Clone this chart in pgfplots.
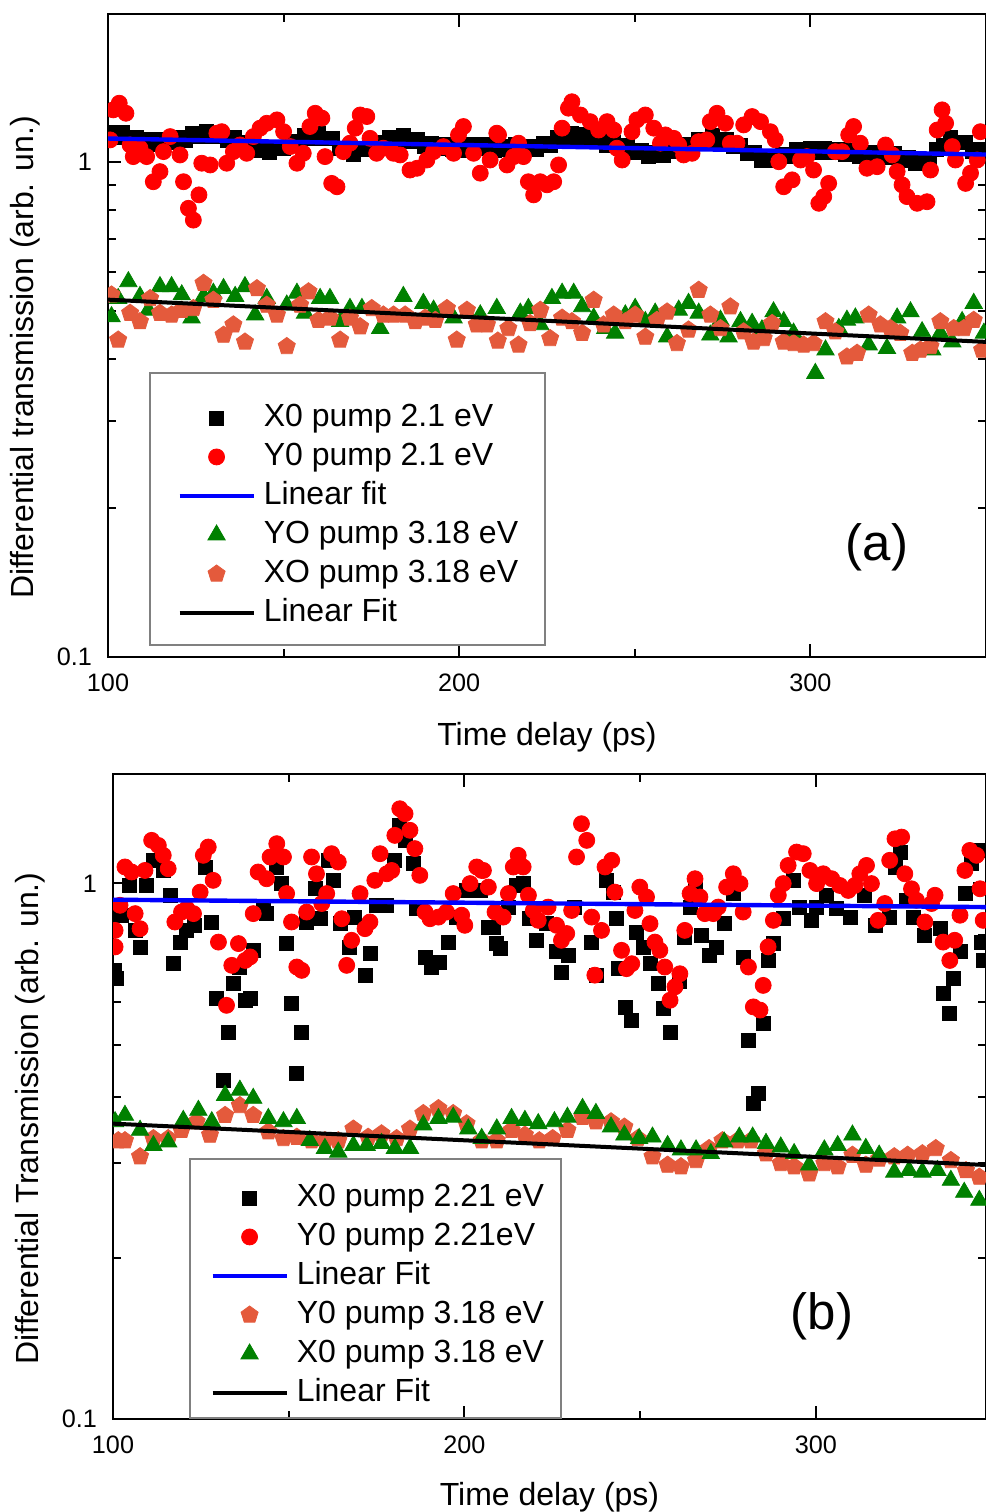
\documentclass[border=0pt]{standalone}
\usepackage{fontspec}
\setmainfont{Liberation Sans}
\usepackage{pgfplots}
\pgfplotsset{compat=1.18}
\definecolor{mygreen}{RGB}{0,128,0}
\definecolor{myorange}{RGB}{228,90,60}
\pgfplotsset{legend image code/.code={\draw[mark repeat=2,mark phase=2,#1] plot coordinates {(0bp,0bp) (18.5bp,0bp) (37bp,0bp)};}}
\pgfplotsset{
 panel/.style={
  scale only axis, xmin=100, ymin=0.1,
  axis line style={line width=1bp},
  xtick={100,200,300}, xticklabels={100,200,300}, minor xtick={150,250},
  ytick={0.1,1}, yticklabels={0.1,1}, minor ytick={0.2,0.3,0.4,0.5,0.6,0.7,0.8,0.9},
  tick align=inside, major tick length=6.5bp, minor tick length=4bp,
  every tick/.style={black, line width=1bp},
  tick label style={font=\fontsize{12.6bp}{15bp}\selectfont},
  xticklabel style={yshift=-5bp},
  yticklabel style={xshift=-4.5bp},
  label style={font=\fontsize{16bp}{19bp}\selectfont},
  clip marker paths=true,
  legend cell align=left,
  legend style={draw=none, fill=none, font=\fontsize{16bp}{19bp}\selectfont, row sep=4bp,
    nodes={inner sep=0pt, text height=12bp, text depth=3.5bp},
    /tikz/every odd column/.append style={column sep=4bp}, anchor=north west},
 },
 sq/.style={only marks, mark=square*, mark size=3.5bp, black},
 ci/.style={only marks, mark=*, mark size=4bp, red},
 tr/.style={only marks, mark=triangle*, mark size=5bp, mygreen},
 pe/.style={only marks, mark=pentagon*, mark size=4.5bp, myorange},
}
\begin{document}
\begin{tikzpicture}
\begin{axis}[ymode=log, panel, at={(54bp,-328.5bp)}, anchor=south west, width=439bp, height=321.5bp,
  xmax=350, ymax=1.99,
  xlabel={Time delay (ps)}, ylabel={Differential transmission (arb. un.)},
  xlabel style={at={(rel axis cs:0.5,-0.1369)}, anchor=base},
  ylabel style={at={(rel axis cs:-0.0945,0.466)}, anchor=center},
  legend style={at={(rel axis cs:0.0478,0.4323)}, inner xsep=13.5bp, inner ysep=11.5bp}]
\addplot[sq] coordinates {(100,1.145)(102,1.119)(104,1.147)(106,1.114)(108,1.123)(110,1.094)(112,1.111)(114,1.086)(116,1.111)(118,1.093)(120,1.119)(122,1.107)(124,1.143)(126,1.128)(128,1.153)(130,1.127)(132,1.141)(134,1.107)(136,1.121)(138,1.089)(140,1.096)(142,1.057)(144,1.069)(146,1.044)(148,1.071)(150,1.064)(152,1.101)(154,1.094)(156,1.131)(158,1.117)(160,1.143)(162,1.114)(164,1.116)(166,1.064)(168,1.066)(170,1.037)(172,1.066)(174,1.059)(176,1.096)(178,1.089)(180,1.123)(182,1.107)(184,1.131)(186,1.101)(188,1.109)(190,1.074)(192,1.091)(194,1.064)(196,1.083)(198,1.059)(200,1.081)(202,1.057)(204,1.083)(206,1.064)(208,1.083)(210,1.057)(212,1.077)(214,1.059)(216,1.083)(218,1.057)(220,1.077)(222,1.059)(224,1.089)(226,1.079)(228,1.121)(230,1.111)(232,1.141)(234,1.121)(236,1.137)(238,1.101)(240,1.111)(242,1.081)(244,1.096)(246,1.067)(248,1.079)(250,1.047)(252,1.056)(254,1.027)(256,1.047)(258,1.029)(260,1.061)(262,1.051)(264,1.083)(266,1.074)(268,1.111)(270,1.101)(272,1.129)(274,1.104)(276,1.111)(278,1.074)(280,1.079)(282,1.039)(284,1.043)(286,1.009)(288,1.025)(290,1.005)(292,1.036)(294,1.027)(296,1.059)(298,1.039)(300,1.063)(302,1.044)(304,1.067)(306,1.043)(308,1.061)(310,1.037)(312,1.053)(314,1.025)(316,1.044)(318,1.021)(320,1.046)(322,1.023)(324,1.041)(326,1.009)(328,1.021)(330,0.991)(332,1.011)(334,0.999)(336,1.061)(338,1.079)(340,1.121)(342,1.094)(344,1.096)(346,1.049)(348,1.059)(350,1.039)};
\addlegendentry{X0 pump 2.1 eV}
\addplot[ci] coordinates {(100.6,1.108)(101.5,1.274)(103.2,1.314)(105.1,1.254)(106.3,1.082)(107.2,1.025)(109.1,1.066)(111.0,1.025)(112.9,0.912)(114.8,0.956)(115.8,1.049)(117.7,1.125)(120.5,1.033)(121.5,0.912)(122.9,0.806)(124.3,0.763)(125.9,0.858)(126.7,0.994)(129.1,0.986)(131.0,1.143)(132.4,1.151)(133.8,0.994)(135.7,1.049)(137.6,1.082)(139.5,1.041)(141.4,1.125)(143.3,1.170)(145.2,1.197)(148.1,1.216)(150.0,1.151)(151.9,1.074)(153.8,0.994)(155.6,1.041)(157.5,1.179)(159.0,1.254)(160.9,1.226)(161.8,1.025)(163.7,0.905)(165.2,0.891)(167.0,1.049)(168.9,1.091)(170.4,1.170)(171.8,1.244)(173.7,1.235)(174.6,1.116)(176.5,1.041)(178.4,1.066)(181.3,1.041)(183.2,1.033)(186.0,0.963)(188.0,0.971)(190.8,1.009)(192.7,1.049)(195.5,1.074)(198.4,1.041)(199.8,1.134)(201.2,1.179)(204.1,1.041)(206.0,0.949)(208.8,1.009)(210.7,1.143)(211.2,1.134)(213.6,0.986)(215.5,1.025)(216.9,1.091)(218.3,1.025)(219.7,0.912)(221.2,0.858)(223.1,0.912)(225.0,0.899)(226.9,0.912)(228.3,0.986)(229.3,1.170)(231.1,1.284)(232.1,1.323)(234.5,1.244)(237.3,1.206)(239.7,1.160)(242.1,1.206)(244.0,1.160)(244.9,1.066)(246.4,1.009)(249.2,1.151)(250.6,1.216)(253.0,1.244)(255.4,1.170)(257.3,1.091)(258.7,1.134)(261.1,1.116)(262.5,1.082)(263.9,1.033)(266.3,1.041)(268.2,1.099)(270.5,1.108)(271.5,1.206)(273.4,1.254)(275.8,1.197)(277.2,1.091)(279.1,1.091)(281.0,1.188)(283.4,1.235)(285.8,1.206)(288.6,1.151)(290.0,1.108)(291.0,1.001)(292.4,0.891)(294.8,0.920)(297.2,1.009)(299.0,1.025)(300.9,0.963)(302.4,0.825)(303.8,0.851)(305.2,0.905)(307.1,1.049)(309.0,1.049)(310.9,1.134)(312.3,1.179)(314.2,1.091)(316.1,0.971)(319.0,0.978)(321.4,1.082)(323.3,1.033)(324.7,0.956)(326.1,0.899)(327.5,0.851)(330.4,0.825)(333.2,0.831)(334.2,0.963)(336.1,1.160)(337.5,1.274)(338.5,1.197)(340.4,1.074)(341.3,1.009)(344.2,0.905)(345.6,0.949)(347.5,1.009)(348.4,1.151)};
\addlegendentry{Y0 pump 2.1 eV}
\addplot[blue, line width=2.2bp] coordinates {(100,1.115)(350,1.035)};
\addlegendentry{Linear fit}
\addplot[tr] coordinates {(101.0,0.487)(102.9,0.530)(105.8,0.573)(109.1,0.535)(111.5,0.502)(114.8,0.560)(118.1,0.560)(121.0,0.539)(123.8,0.484)(127.2,0.535)(130.0,0.543)(132.9,0.555)(136.2,0.535)(139.0,0.560)(141.9,0.491)(145.2,0.530)(150.9,0.514)(153.8,0.543)(156.1,0.495)(160.4,0.530)(163.2,0.530)(166.1,0.476)(168.9,0.506)(172.3,0.506)(177.5,0.461)(184.1,0.535)(189.8,0.518)(192.7,0.502)(198.4,0.484)(202.2,0.495)(206.0,0.491)(210.7,0.506)(217.4,0.495)(219.7,0.506)(223.1,0.469)(226.4,0.530)(229.3,0.543)(232.6,0.543)(235.0,0.510)(238.3,0.484)(241.6,0.461)(244.4,0.451)(247.3,0.491)(250.1,0.506)(253.0,0.476)(255.8,0.495)(259.2,0.443)(262.5,0.502)(265.3,0.518)(268.2,0.495)(271.5,0.447)(274.4,0.479)(276.7,0.443)(280.1,0.476)(283.4,0.472)(286.2,0.458)(289.5,0.498)(292.4,0.476)(295.2,0.451)(301.4,0.374)(304.3,0.417)(308.1,0.461)(310.4,0.479)(312.8,0.484)(316.6,0.427)(321.8,0.420)(324.7,0.484)(328.5,0.498)(331.8,0.454)(334.7,0.417)(337.0,0.451)(340.4,0.433)(343.2,0.476)(346.5,0.518)(349.4,0.451)};
\addlegendentry{YO pump 3.18 eV}
\addplot[pe] coordinates {(101.0,0.539)(102.9,0.437)(106.3,0.495)(109.1,0.476)(112.0,0.530)(114.8,0.495)(118.1,0.491)(121.0,0.502)(124.3,0.506)(127.2,0.569)(130.0,0.526)(132.9,0.447)(135.7,0.469)(139.0,0.433)(142.4,0.555)(145.2,0.514)(148.1,0.491)(150.9,0.424)(154.7,0.514)(157.1,0.547)(159.9,0.479)(163.2,0.484)(166.1,0.437)(168.9,0.484)(171.8,0.465)(175.1,0.506)(178.4,0.491)(181.3,0.491)(184.6,0.491)(187.5,0.476)(190.3,0.484)(193.2,0.479)(196.5,0.506)(199.3,0.437)(202.2,0.502)(205.0,0.469)(207.9,0.469)(211.0,0.435)(214.0,0.461)(216.9,0.427)(220.2,0.472)(223.1,0.502)(225.9,0.440)(229.3,0.484)(232.1,0.476)(235.0,0.451)(238.3,0.526)(241.1,0.469)(244.0,0.491)(247.3,0.476)(250.1,0.491)(253.0,0.443)(256.3,0.479)(259.2,0.498)(262.0,0.430)(265.3,0.458)(268.2,0.551)(271.5,0.491)(274.4,0.461)(277.2,0.510)(281.0,0.454)(283.8,0.433)(286.7,0.440)(289.1,0.472)(292.4,0.433)(295.2,0.430)(298.1,0.427)(300.9,0.430)(304.3,0.476)(307.1,0.454)(310.4,0.404)(313.3,0.411)(316.6,0.491)(319.9,0.469)(322.8,0.461)(325.6,0.451)(329.0,0.411)(331.3,0.417)(334.2,0.424)(337.0,0.476)(340.8,0.461)(343.7,0.461)(346.5,0.479)(348.9,0.417)};
\addlegendentry{XO pump 3.18 eV}
\addplot[black, line width=2bp] coordinates {(100,0.527)(350,0.433)};
\addlegendentry{Linear Fit}
\draw[gray, line width=0.6bp] (rel axis cs:0.0478,0.0187) rectangle (rel axis cs:0.4977,0.4417);
\node[font=\fontsize{25.5bp}{30bp}\selectfont] at (rel axis cs:0.876,0.171) {(a)};
\end{axis}
\begin{axis}[ymode=log, panel, at={(56.5bp,-709.5bp)}, anchor=south west, width=436.5bp, height=322.5bp,
  xmax=348.4, ymax=1.6,
  xlabel={Time delay (ps)}, ylabel={Differential Transmission (arb. un.)},
  xlabel style={at={(rel axis cs:0.5,-0.1333)}, anchor=base},
  ylabel style={at={(rel axis cs:-0.0951,0.466)}, anchor=center},
  legend style={at={(rel axis cs:0.0882,0.3922)}, inner xsep=10bp, inner ysep=8bp}]
\addplot[sq] coordinates {(100.5,0.688)(101.0,0.664)(102.5,0.872)(104.8,0.991)(106.3,0.817)(107.7,0.761)(109.6,0.991)(111.5,1.104)(114.3,1.057)(116.2,0.950)(117.2,0.708)(119.1,0.777)(121.0,0.817)(123.3,0.835)(126.2,1.073)(128.1,0.847)(129.5,0.609)(131.4,0.429)(132.8,0.528)(134.2,0.650)(136.1,0.698)(137.6,0.605)(139.0,0.609)(139.9,0.750)(142.8,0.890)(143.7,0.878)(146.6,1.073)(148.0,0.999)(149.4,0.772)(150.8,0.596)(152.3,0.442)(153.7,0.528)(155.1,0.847)(157.5,0.977)(158.9,0.859)(161.3,1.104)(162.7,1.013)(164.6,0.841)(167.4,0.761)(168.8,0.865)(171.7,0.674)(173.1,0.739)(175.0,0.910)(177.9,0.910)(180.2,1.104)(181.6,1.283)(183.1,1.203)(185.4,1.088)(186.4,0.897)(188.8,0.729)(190.7,0.698)(193.0,0.713)(195.4,0.777)(197.8,0.865)(200.6,0.970)(204.4,0.970)(206.8,0.829)(208.2,0.829)(209.1,0.772)(210.1,0.755)(212.5,0.903)(214.8,0.991)(216.7,0.999)(218.6,0.859)(220.5,0.783)(223.4,0.841)(226.2,0.745)(227.6,0.683)(229.5,0.734)(231.4,0.903)(236.2,0.777)(237.6,0.674)(240.4,1.013)(242.3,0.963)(243.3,0.859)(243.8,0.693)(245.7,0.588)(247.6,0.555)(249.0,0.811)(250.9,0.761)(252.8,0.708)(255.2,0.650)(256.6,0.584)(258.5,0.528)(261.3,0.655)(262.7,0.794)(264.2,0.903)(265.6,0.991)(267.5,0.800)(269.8,0.734)(271.7,0.761)(274.1,0.841)(276.5,0.957)(279.3,0.729)(280.8,0.510)(282.2,0.388)(283.6,0.405)(285.0,0.547)(286.4,0.718)(287.9,0.772)(290.7,0.859)(293.6,1.013)(295.4,0.903)(298.8,0.853)(300.2,0.903)(303.0,0.950)(305.9,0.897)(309.7,0.865)(313.9,0.950)(316.8,0.835)(321.0,0.865)(322.5,1.073)(323.9,1.144)(325.8,0.930)(327.7,0.865)(331.0,0.800)(335.3,0.823)(336.2,0.623)(338.1,0.571)(339.1,0.664)(341.0,0.745)(342.4,0.957)(344.3,1.088)(346.2,1.152)(347.1,0.777)(347.6,0.718)};
\addlegendentry{X0 pump 2.21 eV}
\addplot[ci] coordinates {(100.6,0.817)(100.6,0.761)(102.0,0.910)(103.4,1.073)(105.3,1.050)(106.3,0.878)(107.7,0.823)(109.1,1.057)(111.0,1.203)(112.9,1.177)(114.3,1.128)(115.7,1.065)(117.6,0.847)(119.5,0.884)(121.0,0.897)(122.9,0.878)(124.8,0.963)(125.7,1.128)(127.1,1.169)(128.5,1.013)(130.0,0.777)(132.3,0.592)(133.8,0.703)(135.7,0.772)(137.6,0.718)(139.0,0.729)(139.9,0.878)(141.3,1.050)(143.7,1.020)(144.7,1.120)(146.6,1.186)(148.5,1.120)(149.4,0.957)(150.8,0.847)(152.3,0.698)(153.7,0.688)(155.1,0.884)(156.5,1.120)(157.9,1.042)(159.4,0.917)(160.8,0.957)(162.2,1.136)(164.1,1.096)(165.1,0.859)(166.5,0.703)(167.9,0.783)(170.3,0.957)(171.7,0.823)(173.1,0.847)(174.5,1.013)(176.0,1.136)(177.9,1.042)(179.3,1.057)(180.2,1.229)(181.6,1.378)(183.1,1.349)(184.5,1.256)(185.9,1.161)(187.3,1.035)(188.8,0.884)(190.2,0.859)(192.6,0.865)(194.9,0.884)(196.8,0.957)(199.2,0.872)(200.1,0.835)(201.6,0.999)(203.5,1.073)(204.9,1.057)(205.4,1.057)(206.8,0.984)(208.7,0.884)(211.0,0.865)(212.5,0.957)(213.9,1.073)(215.3,1.128)(216.7,1.073)(218.2,0.950)(219.6,0.890)(221.0,0.853)(223.8,0.903)(226.2,0.835)(227.6,0.783)(229.1,0.806)(230.5,0.890)(231.9,1.120)(233.3,1.292)(234.8,1.203)(236.2,0.865)(237.1,0.674)(239.0,0.817)(240.0,1.073)(241.9,1.104)(242.8,0.963)(244.7,0.750)(246.1,0.693)(247.6,0.708)(248.5,0.890)(249.9,0.984)(251.8,0.943)(252.8,0.841)(254.2,0.777)(255.6,0.750)(257.0,0.698)(258.5,0.605)(259.9,0.641)(261.3,0.678)(262.7,0.817)(264.2,0.957)(265.6,1.020)(267.0,0.943)(268.4,0.878)(270.8,0.878)(272.2,0.903)(274.6,0.984)(276.5,1.042)(278.4,0.999)(279.3,0.884)(280.8,0.698)(282.2,0.588)(284.1,0.580)(285.0,0.645)(286.4,0.761)(287.9,0.853)(289.3,0.950)(290.7,0.999)(292.1,1.080)(294.5,1.144)(296.4,1.136)(298.3,1.057)(300.2,0.999)(302.1,1.042)(304.5,1.020)(306.8,0.991)(309.2,0.970)(311.1,0.991)(312.5,1.042)(314.4,1.080)(315.8,0.999)(317.7,0.853)(319.6,0.917)(321.0,1.104)(322.5,1.211)(324.4,1.220)(325.3,1.042)(327.2,0.977)(328.6,0.930)(331.0,0.847)(332.9,0.917)(333.9,0.950)(336.2,0.777)(338.1,0.718)(339.5,0.783)(341.0,0.872)(342.4,1.057)(343.8,1.152)(345.7,1.128)(346.7,0.977)(347.6,0.853)};
\addlegendentry{Y0 pump 2.21eV}
\addplot[blue, line width=2.2bp] coordinates {(100,0.932)(348.4,0.903)};
\addlegendentry{Linear Fit}
\addplot[pe] coordinates {(101.5,0.331)(103.4,0.331)(107.7,0.309)(111.5,0.334)(115.7,0.334)(119.5,0.346)(123.8,0.359)(127.6,0.339)(131.9,0.369)(136.1,0.385)(139.9,0.369)(144.2,0.344)(148.5,0.334)(152.3,0.336)(156.5,0.331)(160.3,0.331)(164.1,0.331)(168.4,0.348)(172.6,0.336)(176.4,0.341)(180.7,0.334)(184.5,0.348)(188.3,0.372)(192.6,0.380)(196.8,0.372)(200.6,0.356)(204.9,0.331)(209.2,0.331)(213.4,0.346)(217.2,0.339)(221.3,0.331)(225.1,0.334)(229.3,0.346)(233.6,0.366)(237.4,0.359)(241.7,0.359)(245.5,0.351)(249.3,0.334)(253.5,0.309)(257.8,0.298)(261.6,0.296)(265.9,0.304)(269.6,0.320)(273.4,0.331)(277.7,0.331)(281.5,0.331)(285.8,0.313)(290.0,0.300)(293.8,0.296)(298.1,0.287)(302.4,0.300)(306.2,0.296)(310.4,0.311)(314.2,0.298)(318.0,0.306)(322.3,0.309)(326.1,0.311)(330.3,0.313)(334.1,0.320)(338.4,0.304)(342.7,0.291)(346.5,0.283)};
\addlegendentry{Y0 pump 3.18 eV}
\addplot[tr] coordinates {(100.6,0.359)(103.4,0.369)(107.7,0.346)(111.5,0.324)(115.7,0.329)(120.0,0.361)(124.3,0.377)(128.1,0.359)(131.9,0.402)(136.1,0.411)(139.9,0.397)(144.2,0.364)(148.5,0.359)(152.3,0.364)(156.0,0.331)(160.3,0.320)(164.1,0.315)(168.4,0.324)(172.2,0.324)(176.4,0.327)(180.2,0.320)(184.5,0.320)(188.3,0.354)(192.6,0.364)(196.8,0.366)(201.1,0.348)(204.9,0.334)(209.2,0.348)(213.4,0.364)(217.2,0.361)(221.0,0.356)(225.6,0.359)(229.3,0.366)(233.6,0.380)(237.4,0.372)(241.7,0.351)(245.5,0.339)(249.7,0.334)(253.5,0.336)(257.8,0.324)(261.6,0.318)(265.9,0.318)(270.1,0.313)(273.9,0.329)(278.2,0.336)(282.0,0.336)(285.8,0.327)(290.0,0.322)(293.8,0.313)(298.1,0.298)(302.4,0.318)(306.2,0.324)(310.4,0.339)(314.2,0.320)(318.0,0.311)(322.3,0.289)(326.5,0.291)(330.3,0.289)(334.6,0.291)(338.4,0.279)(342.2,0.265)(346.5,0.256)};
\addlegendentry{X0 pump 3.18 eV}
\addplot[black, line width=2bp] coordinates {(100,0.356)(348.4,0.298)};
\addlegendentry{Linear Fit}
\draw[gray, line width=0.6bp] (rel axis cs:0.0882,0.0016) rectangle (rel axis cs:0.5132,0.4031);
\node[font=\fontsize{25.5bp}{30bp}\selectfont] at (rel axis cs:0.812,0.160) {(b)};
\end{axis}
\pgfresetboundingbox
\useasboundingbox (0bp,0bp) rectangle (493bp,-756bp);
\end{tikzpicture}
\end{document}
